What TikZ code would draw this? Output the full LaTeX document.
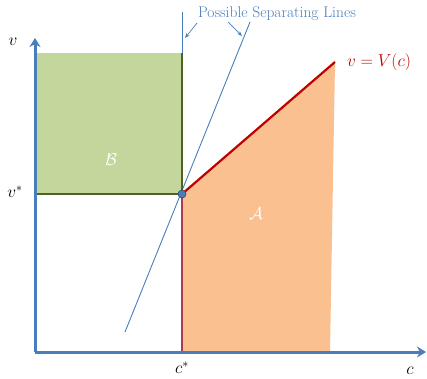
\documentclass[tikz,border=0pt]{standalone}
\usepackage{amsmath}
\usetikzlibrary{arrows.meta,positioning,calc}
\definecolor{axisblue}{HTML}{4A7EBB}
\definecolor{regiongreen}{HTML}{C3D69B}
\definecolor{edgegreen}{HTML}{4F6228}
\definecolor{regionorange}{HTML}{FAC090}
\definecolor{curvered}{HTML}{C00000}

\begin{document}
\begin{tikzpicture}[x=1pt,y=1pt,
  axis/.style={line width=3pt,axisblue,-{Stealth[length=9pt,width=11pt]}},
  sepline/.style={axisblue,line width=0.9pt},
  lbl/.style={font=\fontsize{18}{21}\selectfont}]
\useasboundingbox (0,0) rectangle (427,378);

% Key points
\coordinate (O) at (35,26);
\coordinate (P) at (182,184);
\coordinate (Vtop) at (335,316);
\coordinate (Vbot) at (330,26);
\coordinate (cstar) at (182,26);

% Regions
\fill[regiongreen] (37,325) rectangle (P);
\fill[regionorange] (P) -- (Vtop) -- (Vbot) -- (cstar) -- cycle;

% Possible separating lines
\draw[sepline] (182,366) -- (cstar);
\draw[sepline] (125,46) -- (250,356);

% Borders of B and the curve
\draw[edgegreen,line width=2pt] (182,325) -- (P) -- (37,184);
\draw[red!55!axisblue,line width=1.6pt] (P) -- (cstar);
\draw[curvered,line width=2.2pt] (P) -- (Vtop);

% Axes
\draw[axis] (O) -- (35,340);
\draw[axis] (O) -- (426,26);

\fill[axisblue,draw=axisblue!60!black,line width=0.6pt] (P) circle (4);

% Labels
\node[lbl] (vlab) at (13,336) {$v$};
\node[lbl] (vstar) at (15,186) {$v^*$};
\node[lbl] (cslab) at (182,10) {$c^*$};
\node[lbl] (clab) at (410,7) {$c$};
\node[lbl,text=curvered] (Vlab) at (379,316) {$v=V(c)$};
\node[lbl,text=white] (Blab) at (111,218) {$\mathcal{B}$};
\node[lbl,text=white] (Alab) at (256,164) {$\mathcal{A}$};

% Title with arrows to the lines
\node[text=axisblue,font=\fontsize{15.5}{18}\selectfont] (sep) at (277,364) {Possible Separating Lines};
\coordinate (a1) at (185,340);
\coordinate (a2) at (242,342);
\draw[axisblue,line width=0.7pt,-{Stealth[length=5pt]}] (197,355) -- (a1);
\draw[axisblue,line width=0.7pt,-{Stealth[length=5pt]}] (228,356) -- (a2);
\end{tikzpicture}
\end{document}
